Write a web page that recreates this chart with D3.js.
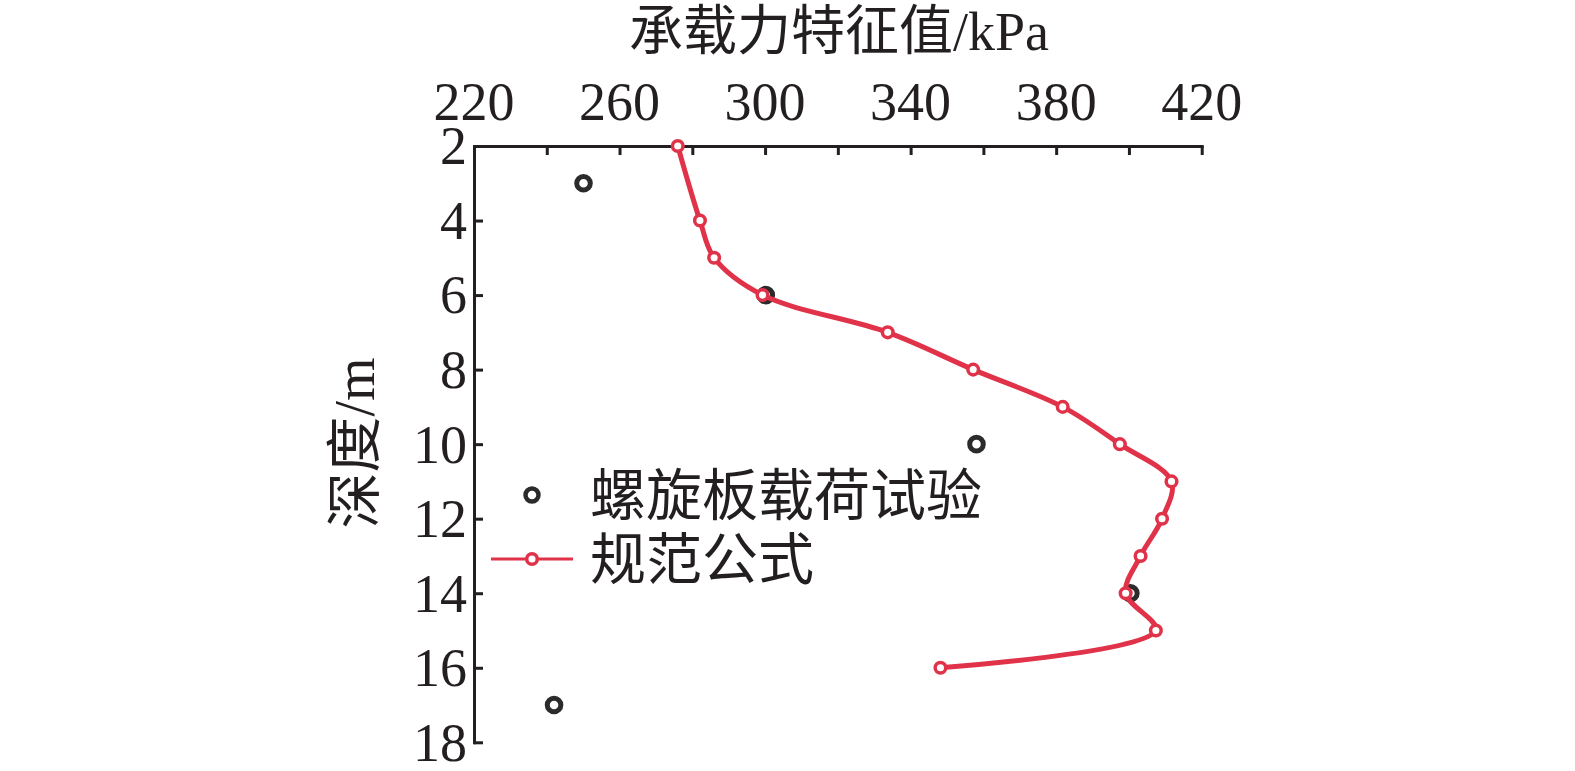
<!DOCTYPE html>
<html><head><meta charset="utf-8">
<script src="https://cdn.jsdelivr.net/npm/d3@7"></script>
<style>
html,body{margin:0;padding:0;background:#fff;}
text{font-family:"Liberation Serif","Noto Sans CJK SC",serif;fill:#231f20;}
</style></head>
<body>
<svg id="c" width="1575" height="771"></svg>
<script>
const xTicks = [220, 240, 260, 280, 300, 320, 340, 360, 380, 400, 420];
const xTickLabels = [220, 260, 300, 340, 380, 420];
const yTicks = [2, 4, 6, 8, 10, 12, 14, 16, 18];
const formulaDepth = [2, 4, 5, 6, 7, 8, 9, 10, 11, 12, 13, 14, 15, 16];
const formulaValue = [276.0, 282.1, 286.0, 299.3, 333.7, 357.2, 381.8, 397.5, 411.7, 409.1, 403.2, 399.1, 407.4, 348.2];
const testDepth = [3, 6, 10, 14, 17];
const testValue = [250.1, 300.2, 358.1, 400.4, 242.0];
const xTitle = "承载力特征值/kPa";
const yTitle = "深度/m";
const legendNames = ["螺旋板载荷试验", "规范公式"];

const RED = "#e03248", DARK = "#2b2b2b";
const svg = d3.select("#c");
const x = d3.scaleLinear().domain([220, 420]).range([474, 1201.7]);
const y = d3.scaleLinear().domain([2, 18]).range([146, 742.3]);

// axes
const ax = svg.append("g").attr("transform", `translate(0,${y(2)})`)
  .call(d3.axisTop(x).tickValues(xTicks).tickSize(-9).tickSizeOuter(0).tickFormat(""));
ax.selectAll("path,line").attr("stroke", "#231f20").attr("stroke-width", 3);
const ay = svg.append("g").attr("transform", `translate(${x(220)},0)`)
  .call(d3.axisLeft(y).tickValues(yTicks).tickSize(-9).tickSizeOuter(0).tickFormat(""));
ay.selectAll("path,line").attr("stroke", "#231f20").attr("stroke-width", 3);
svg.selectAll(".domain").attr("stroke-linecap", "square");

// tick labels
svg.append("g").selectAll("text").data(xTickLabels).join("text")
  .attr("x", d => x(d)).attr("y", 120).attr("text-anchor", "middle")
  .attr("font-size", 54).text(d => d);
svg.append("g").selectAll("text").data(yTicks).join("text")
  .attr("x", 467).attr("y", d => y(d)).attr("dy", "0.34em").attr("text-anchor", "end")
  .attr("font-size", 54).text(d => d);

// titles
svg.append("text").attr("x", 839).attr("y", 50).attr("text-anchor", "middle")
  .attr("font-size", 54).text(xTitle);
svg.append("text").attr("transform", "translate(374,443) rotate(-90)")
  .attr("text-anchor", "middle").attr("font-size", 56).text(yTitle);

// test points
const tests = testDepth.map((d, i) => ({d, v: testValue[i]}));
svg.append("g").selectAll("circle").data(tests).join("circle")
  .attr("cx", p => x(p.v)).attr("cy", p => y(p.d)).attr("r", 6.8)
  .attr("fill", "none").attr("stroke", DARK).attr("stroke-width", 5);

// formula line
const form = formulaDepth.map((d, i) => ({d, v: formulaValue[i]}));
const line = d3.line().x(p => x(p.v)).y(p => y(p.d)).curve(d3.curveCatmullRom.alpha(0.5));
svg.append("path").datum(form).attr("d", line).attr("fill", "none")
  .attr("stroke", RED).attr("stroke-width", 5).attr("stroke-linejoin", "round");
svg.append("g").selectAll("circle").data(form).join("circle")
  .attr("cx", p => x(p.v)).attr("cy", p => y(p.d)).attr("r", 5.3)
  .attr("fill", "#fff").attr("stroke", RED).attr("stroke-width", 3.5);

// legend
const lg = svg.append("g");
lg.append("circle").attr("cx", 532).attr("cy", 495).attr("r", 6.5)
  .attr("fill", "none").attr("stroke", DARK).attr("stroke-width", 4.5);
lg.append("text").attr("x", 590).attr("y", 495).attr("dy", "0.36em")
  .attr("font-size", 56).text(legendNames[0]);
lg.append("line").attr("x1", 491).attr("x2", 573).attr("y1", 559).attr("y2", 559)
  .attr("stroke", RED).attr("stroke-width", 3);
lg.append("circle").attr("cx", 532).attr("cy", 559).attr("r", 5.3)
  .attr("fill", "#fff").attr("stroke", RED).attr("stroke-width", 3.5);
lg.append("text").attr("x", 590).attr("y", 559).attr("dy", "0.36em")
  .attr("font-size", 56).text(legendNames[1]);
</script>
</body></html>
